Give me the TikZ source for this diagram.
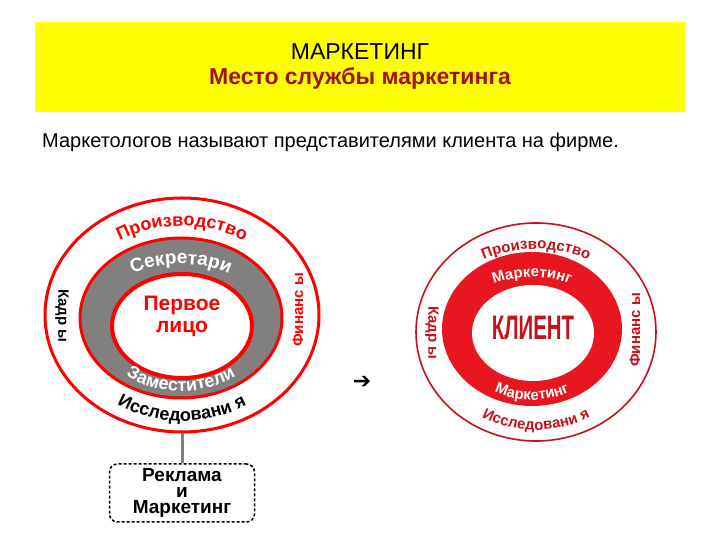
\documentclass[tikz,border=0pt]{standalone}
\usepackage{fontspec}
\setmainfont{Liberation Sans}
\newfontfamily\dingfont{DejaVu Sans}
\usetikzlibrary{shapes.geometric, positioning, calc, decorations.text}
\definecolor{BannerYellow}{HTML}{FFFF00}
\definecolor{TitleRed}{HTML}{A50F15}
\definecolor{RingRed}{HTML}{E8161E}
\definecolor{LabelRed}{HTML}{C4121A}
\definecolor{RingGray}{HTML}{808080}

\begin{document}
\begin{tikzpicture}[x=1pt, y=1pt]
  \tikzset{
    oval/.style={ellipse, inner sep=0pt, minimum width=#1},
    sidelabel/.style={font=\bfseries\fontsize{15}{15}\selectfont, inner sep=0pt},
    arctext/.style={decorate, decoration={text along path, text align=center, text={#1}}},
    boxlabel/.style={rectangle, rounded corners=8pt, draw=black, densely dashed, line width=1.5pt, minimum width=145pt, minimum height=58pt, align=center, font=\bfseries\fontsize{19}{16}\selectfont}
  }
  \useasboundingbox (0,0) rectangle (720,540);

  % banner
  \node[fill=BannerYellow, minimum width=650pt, minimum height=90pt, inner sep=0pt] (banner) at (360,473) {};
  \node[font=\fontsize{23}{23}\selectfont] (title) at (360,488) {МАРКЕТИНГ};
  \node[font=\bfseries\fontsize{23}{23}\selectfont, text=TitleRed] (subtitle) at (360,462) {Место службы маркетинга};
  \node[anchor=west, font=\fontsize{20}{20}\selectfont, inner sep=0pt] (intro) at (42,398) {Маркетологов называют представителями клиента на фирме.};

  % left rings
  \node[oval=274pt, minimum height=234pt, draw=red, line width=3pt, fill=white] (outerL) at (182,225) {};
  \node[oval=202pt, minimum height=160pt, draw=red, line width=3pt, fill=RingGray] (grayL) at (181,222) {};
  \node[oval=140pt, minimum height=104pt, draw=red, line width=4pt, fill=white] (innerL) at (182,214) {};
  \node[font=\bfseries\fontsize{21}{22}\selectfont, text=red, align=center] (firstL) at (182,224) {Первое\\лицо};

  \path[arctext={|\bfseries\fontsize{18}{18}\selectfont\color{red}|Производство}] ($(182,225)+(165:113pt and 89pt)$) arc[start angle=165, end angle=15, x radius=113pt, y radius=89pt];
  \path[arctext={|\bfseries\fontsize{19}{19}\selectfont\color{white}|Секретари}] ($(181,222)+(160:84pt and 54pt)$) arc[start angle=160, end angle=20, x radius=84pt, y radius=54pt];
  \path[arctext={|\bfseries\fontsize{18}{18}\selectfont\color{white}|Заместители}] ($(181,222)+(200:90pt and 73pt)$) arc[start angle=200, end angle=340, x radius=90pt, y radius=73pt];
  \path[arctext={|\bfseries\fontsize{18}{18}\selectfont\color{black}|Исследовани я}] ($(182,225)+(195:122pt and 106pt)$) arc[start angle=195, end angle=345, x radius=122pt, y radius=106pt];
  \node[sidelabel, rotate=-90] (staffL) at (62,224) {Кадр ы};
  \node[sidelabel, rotate=90, text=red] (financeL) at (298,230) {Финанс ы};

  % right rings
  \node[oval=240pt, minimum height=218pt, draw=LabelRed, line width=1.6pt, fill=white] (outerR) at (536,208) {};
  \node[oval=180pt, minimum height=154pt, fill=RingRed] (ringR) at (532,211) {};
  \node[oval=122pt, minimum height=96pt, fill=white] (innerR) at (533,207) {};
  \node[font=\bfseries\fontsize{34}{34}\selectfont, text=LabelRed] (client) at (533,212) {\scalebox{0.6}[1]{КЛИЕНТ}};

  \path[arctext={|\bfseries\fontsize{15}{15}\selectfont\color{LabelRed}|Производство}] ($(536,208)+(165:106pt and 83pt)$) arc[start angle=165, end angle=15, x radius=106pt, y radius=83pt];
  \path[arctext={|\bfseries\fontsize{15}{15}\selectfont\color{white}|Маркетинг}] ($(532,211)+(160:75pt and 52pt)$) arc[start angle=160, end angle=20, x radius=75pt, y radius=52pt];
  \path[arctext={|\bfseries\fontsize{15}{15}\selectfont\color{white}|Маркетинг}] ($(532,211)+(200:80pt and 71pt)$) arc[start angle=200, end angle=340, x radius=80pt, y radius=71pt];
  \path[arctext={|\bfseries\fontsize{15}{15}\selectfont\color{LabelRed}|Исследовани я}] ($(536,208)+(195:110pt and 98pt)$) arc[start angle=195, end angle=345, x radius=110pt, y radius=98pt];
  \node[sidelabel, rotate=-90, text=LabelRed] (staffR) at (432,207) {Кадр ы};
  \node[sidelabel, rotate=90, text=LabelRed] (financeR) at (635,210) {Финанс ы};

  \node[font=\dingfont\fontsize{22}{22}\selectfont] (arrow) at (362,158) {➔};

  % advertising box
  \node[boxlabel] (adbox) at (182,47) {Реклама\\и\\Маркетинг};
  \draw[RingGray, line width=3pt] (outerL.south) -- (adbox.north);
\end{tikzpicture}
\end{document}
